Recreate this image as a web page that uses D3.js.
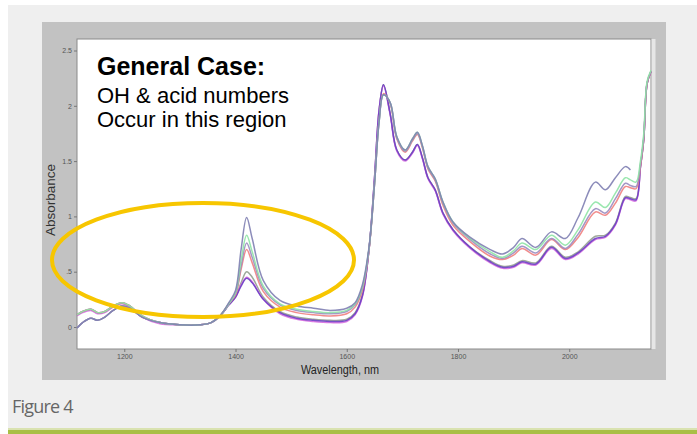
<!DOCTYPE html>
<html><head><meta charset="utf-8">
<script src="https://cdn.jsdelivr.net/npm/d3@7"></script>
<style>html,body{margin:0;padding:0;background:#fff;}svg{display:block;}</style>
</head><body>
<script>
// ---- data ----
const wavelengths = [1115,1125,1140,1152,1165,1180,1196,1210,1232,1264,1300,1336,1356,1372,1388,1400,1410,1420,1430,1450,1480,1510,1540,1570,1600,1615,1628,1640,1650,1658,1666,1678,1690,1705,1718,1727,1736,1746,1759,1773,1791,1822,1858,1880,1900,1915,1940,1968,1993,2016,2047,2065,2083,2101,2110,2120,2128,2134,2140,2147];
const seriesBlue    = [-0.01,0.04,0.08,0.06,0.09,0.15,0.19,0.17,0.09,0.04,0.02,0.02,0.04,0.10,0.22,0.33,0.70,0.99,0.80,0.42,0.24,0.19,0.17,0.15,0.17,0.22,0.38,0.72,1.30,1.85,2.10,2.03,1.72,1.60,1.70,1.76,1.64,1.45,1.34,1.13,0.95,0.81,0.70,0.66,0.72,0.80,0.72,0.86,0.80,0.99,1.31,1.24,1.35,1.45,1.42,null,null,null,null,null];
const seriesGreen   = [0.11,0.14,0.16,0.13,0.14,0.19,0.22,0.19,0.10,0.04,0.02,0.02,0.04,0.10,0.21,0.31,0.60,0.83,0.68,0.37,0.21,0.16,0.14,0.13,0.15,0.21,0.36,0.71,1.30,1.85,2.10,2.03,1.72,1.60,1.70,1.76,1.64,1.45,1.34,1.13,0.95,0.80,0.68,0.63,0.69,0.76,0.70,0.83,0.74,0.88,1.13,1.08,1.21,1.35,1.33,1.31,1.50,1.75,2.22,2.32];
const seriesSlate   = [-0.01,0.04,0.08,0.06,0.09,0.15,0.19,0.17,0.09,0.04,0.02,0.02,0.04,0.10,0.21,0.30,0.55,0.76,0.63,0.35,0.20,0.15,0.13,0.12,0.14,0.20,0.35,0.71,1.30,1.85,2.10,2.03,1.71,1.59,1.69,1.75,1.63,1.44,1.33,1.12,0.94,0.79,0.66,0.62,0.67,0.73,0.67,0.80,0.71,0.84,1.07,1.03,1.16,1.30,1.28,1.27,1.47,1.72,2.21,2.31];
const seriesRed     = [0.11,0.14,0.16,0.13,0.14,0.19,0.22,0.19,0.10,0.04,0.02,0.02,0.04,0.10,0.21,0.29,0.52,0.70,0.58,0.32,0.18,0.13,0.11,0.10,0.12,0.18,0.33,0.70,1.30,1.86,2.11,2.02,1.70,1.58,1.68,1.74,1.62,1.43,1.32,1.10,0.92,0.77,0.64,0.61,0.65,0.71,0.65,0.79,0.70,0.81,1.04,1.01,1.12,1.27,1.26,1.25,1.45,1.70,2.20,2.31];
const seriesGray    = [-0.01,0.04,0.08,0.06,0.09,0.15,0.19,0.17,0.09,0.04,0.02,0.02,0.04,0.10,0.20,0.27,0.40,0.50,0.45,0.27,0.14,0.09,0.07,0.06,0.07,0.13,0.29,0.70,1.35,1.95,2.19,1.93,1.60,1.51,1.58,1.65,1.53,1.35,1.24,1.03,0.88,0.72,0.60,0.55,0.56,0.60,0.58,0.73,0.63,0.68,0.82,0.83,0.94,1.18,1.17,1.16,1.45,1.70,2.20,2.31];
const seriesPurple  = [0.11,0.14,0.16,0.13,0.14,0.19,0.22,0.19,0.10,0.04,0.02,0.02,0.04,0.10,0.20,0.27,0.37,0.44,0.40,0.25,0.13,0.08,0.06,0.05,0.06,0.12,0.28,0.70,1.35,1.95,2.19,1.93,1.60,1.51,1.58,1.65,1.53,1.35,1.24,1.03,0.88,0.72,0.59,0.54,0.55,0.59,0.57,0.72,0.62,0.67,0.80,0.82,0.93,1.17,1.16,1.15,1.45,1.70,2.20,2.31];
const seriesMagenta = [0.10,0.13,0.15,0.12,0.13,0.18,0.21,0.18,0.09,0.03,0.02,0.02,0.04,0.10,0.20,0.27,0.38,0.45,0.41,0.25,0.12,0.07,0.05,0.04,0.05,0.11,0.27,0.70,1.36,1.96,2.18,1.92,1.59,1.50,1.57,1.64,1.52,1.34,1.23,1.02,0.87,0.71,0.58,0.53,0.54,0.58,0.56,0.71,0.61,0.66,0.79,0.81,0.92,1.16,1.15,1.14,1.44,1.70,2.20,2.31];
const seriesNames   = ["blue","green","slate","red","gray","purple","magenta"];
const seriesColors  = ["#7f80b2","#8fe4a6","#9a8cc0","#ef7f7f","#95a090","#6b3fc4","#d66ee0"];
const yTickValues   = [0,0.5,1,1.5,2,2.5];
const yTickLabels   = ["0",".5","1","1.5","2","2.5"];
const xTickValues   = [1200,1400,1600,1800,2000];
const xTickLabels   = ["1200","1400","1600","1800","2000"];

const W = 697, H = 434;
const svg = d3.select("body").append("svg").attr("width", W).attr("height", H);

// page panel
svg.append("rect").attr("x",8).attr("y",5).attr("width",W-8).attr("height",H-5).attr("fill","#efefef");
svg.append("rect").attr("x",8).attr("y",430).attr("width",W-8).attr("height",4).attr("fill","#a9bf45");
svg.append("rect").attr("x",8).attr("y",428).attr("width",W-8).attr("height",2).attr("fill","#d9e2b0");

// chart frame
svg.append("rect").attr("x",42).attr("y",22).attr("width",624).attr("height",358).attr("fill","#c2c2c2");
const plot = {x0:77, x1:651, y0:39, y1:349};
svg.append("rect").attr("x",plot.x0).attr("y",plot.y0).attr("width",plot.x1-plot.x0).attr("height",plot.y1-plot.y0)
  .attr("fill","#fff").attr("stroke","#8a8a8a").attr("stroke-width",1);
svg.append("rect").attr("x",plot.x1+0.5).attr("y",plot.y0).attr("width",4).attr("height",plot.y1-plot.y0).attr("fill","#e6e6e6");

const x = d3.scaleLinear().domain([1115,2147]).range([plot.x0, plot.x1]);
const y = d3.scaleLinear().domain([0,2.5]).range([327, 50.5]);

const af = "Liberation Sans, Arial, sans-serif";
// axes
const yAxis = d3.axisLeft(y).tickValues(yTickValues).tickFormat((d,i)=>yTickLabels[i]).tickSize(3).tickPadding(2);
const gy = svg.append("g").attr("transform",`translate(${plot.x0},0)`).call(yAxis);
gy.select(".domain").remove();
gy.selectAll("line").attr("stroke","#777");
gy.selectAll("text").attr("font-family",af).attr("font-size",7).attr("fill","#555");

const xAxis = d3.axisBottom(x).tickValues(xTickValues).tickFormat((d,i)=>xTickLabels[i]).tickSize(3).tickPadding(2);
const gx = svg.append("g").attr("transform",`translate(0,${plot.y1})`).call(xAxis);
gx.select(".domain").remove();
gx.selectAll("line").attr("stroke","#777");
gx.selectAll("text").attr("font-family",af).attr("font-size",7).attr("fill","#555");

svg.append("text").attr("x",340).attr("y",374).attr("text-anchor","middle")
  .attr("font-family",af).attr("font-size",12).attr("fill","#222").attr("textLength",78).attr("lengthAdjust","spacingAndGlyphs").text("Wavelength, nm");
svg.append("text").attr("transform","translate(55,200) rotate(-90)").attr("text-anchor","middle")
  .attr("font-family",af).attr("font-size",12).attr("fill","#333").attr("textLength",72).attr("lengthAdjust","spacingAndGlyphs").text("Absorbance");

// series
const allSeries = [seriesBlue,seriesGreen,seriesSlate,seriesRed,seriesGray,seriesPurple,seriesMagenta];
const line = d3.line().defined(d=>d[1]!==null).x(d=>x(d[0])).y(d=>y(d[1])).curve(d3.curveCatmullRom.alpha(0.5));
const order = [4,6,5,3,2,1,0];
order.forEach(i=>{
  const pts = wavelengths.map((w,j)=>[w, allSeries[i][j]]);
  svg.append("path").attr("d", line(pts)).attr("fill","none").attr("stroke",seriesColors[i])
    .attr("stroke-width",1.5).attr("stroke-opacity",0.9);
});

// annotation
svg.append("text").attr("x",97).attr("y",75).attr("font-family",af).attr("font-weight","bold").attr("font-size",25).attr("fill","#000").text("General Case:");
svg.append("text").attr("x",97).attr("y",103).attr("font-family",af).attr("font-size",22).attr("fill","#000").text("OH & acid numbers");
svg.append("text").attr("x",97).attr("y",127).attr("font-family",af).attr("font-size",22).attr("fill","#000").text("Occur in this region");

svg.append("ellipse").attr("cx",203).attr("cy",260).attr("rx",151).attr("ry",57)
  .attr("fill","none").attr("stroke","#f7c600").attr("stroke-width",4);

// caption
svg.append("text").attr("x",12).attr("y",413).attr("font-family","Open Sans, sans-serif").attr("font-size",18).attr("fill","#666").attr("letter-spacing",-0.8).text("Figure 4");
</script>
</body></html>
